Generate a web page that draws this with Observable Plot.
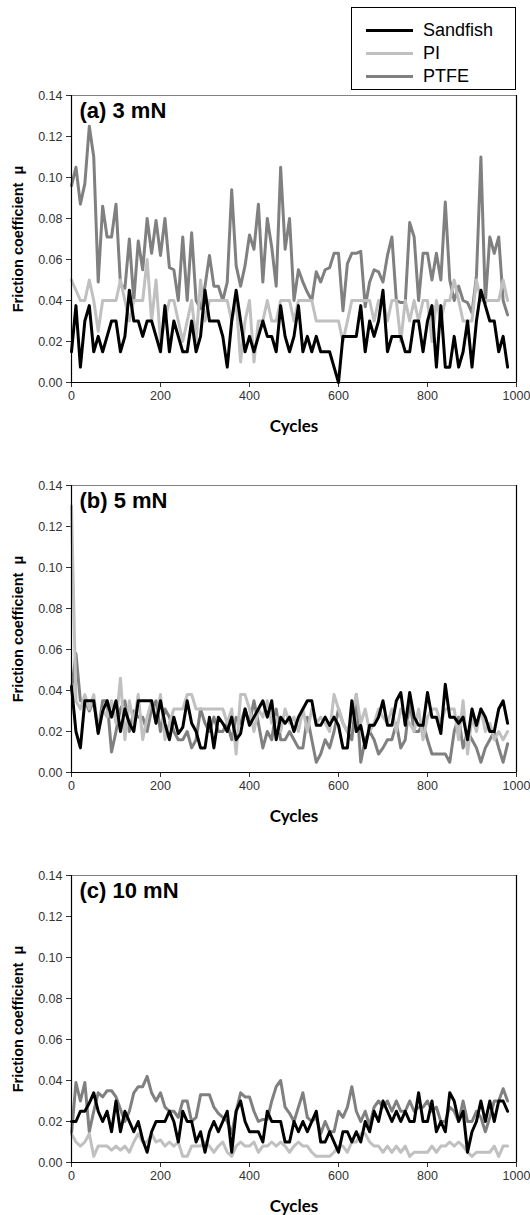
<!DOCTYPE html>
<html>
<head>
<meta charset="utf-8">
<script src="https://cdn.jsdelivr.net/npm/d3@7"></script>
<script src="https://cdn.jsdelivr.net/npm/@observablehq/plot@0.6"></script>
<style>
html,body{margin:0;padding:0;background:#fff;}
#wrap{position:relative;width:530px;height:1215px;overflow:hidden;font-family:"Liberation Sans",Arial,sans-serif;}
.legend{position:absolute;left:351px;top:7px;width:163px;height:81px;border:1px solid #000;background:#fff;z-index:2;}
.legend .row{position:absolute;left:0;height:20px;width:160px;}
.legend .ln{position:absolute;left:14px;width:47px;height:3px;top:9px;}
.legend .tx{position:absolute;left:71px;top:0;font-size:18px;line-height:20px;color:#000;}
</style>
</head>
<body>
<div id="wrap">
  <div class="legend" id="legend"></div>
</div>
<script>
// ---- data ----
const cycles = [0,10,20,30,40,50,60,70,80,90,100,110,120,130,140,150,160,170,180,190,200,210,220,230,240,250,260,270,280,290,300,310,320,330,340,350,360,370,380,390,400,410,420,430,440,450,460,470,480,490,500,510,520,530,540,550,560,570,580,590,600,610,620,630,640,650,660,670,680,690,700,710,720,730,740,750,760,770,780,790,800,810,820,830,840,850,860,870,880,890,900,910,920,930,940,950,960,970,980];

const seriesNames = ["Sandfish", "PI", "PTFE"];
const seriesColors = ["#000000", "#c0c0c0", "#808080"];
const panelTitles = ["(a) 3 mN", "(b) 5 mN", "(c) 10 mN"];
const xTicks = [0, 200, 400, 600, 800, 1000];
const yTicks = [0, 0.02, 0.04, 0.06, 0.08, 0.10, 0.12, 0.14];
const xLabel = "Cycles";
const yLabel = "Friction coefficient  μ";

// (a) 3 mN
const sandfish3 = [.015,.0375,.0075,.03,.0375,.015,.0225,.015,.0225,.03,
.03,.015,.0225,.045,.03,.03,.0225,.03,.03,.0225,
.015,.0375,.015,.03,.0225,.015,.015,.03,.015,.0225,
.045,.03,.03,.03,.0225,.0075,.03,.045,.03,.015,
.0225,.015,.0225,.03,.0225,.0225,.015,.0375,.0225,.015,
.0225,.0375,.015,.0225,.015,.0225,.015,.015,.015,.0075,
0,.0225,.0225,.0225,.0225,.0375,.015,.03,.0225,.03,
.045,.015,.0225,.0225,.0225,.015,.015,.03,.03,.015,
.03,.0375,.0075,.0375,.0075,.0075,.0225,.0075,.015,.03,
.0075,.03,.045,.0375,.03,.03,.015,.0225,.0075];
const pi3 = [.05,.045,.04,.04,.05,.04,.025,.04,.04,.04,
.04,.05,.04,.03,.04,.04,.04,.06,.03,.05,
.02,.03,.04,.04,.03,.02,.03,.04,.02,.05,
.03,.04,.04,.04,.04,.04,.03,.04,.01,.03,
.04,.01,.03,.03,.04,.03,.03,.04,.04,.04,
.03,.04,.04,.04,.04,.03,.03,.03,.03,.03,
.03,.02,.03,.04,.04,.04,.04,.04,.03,.04,
.04,.03,.04,.04,.02,.04,.03,.04,.03,.04,
.04,.02,.04,.03,.04,.04,.05,.04,.03,.03,
.03,.05,.04,.04,.04,.04,.04,.05,.04];
const ptfe3 = [.096,.105,.087,.097,.125,.11,.049,.086,.071,.071,
.087,.048,.046,.07,.04,.069,.055,.08,.063,.079,
.062,.08,.056,.055,.04,.071,.04,.073,.04,.036,
.047,.062,.047,.047,.04,.049,.094,.057,.047,.057,
.072,.065,.087,.049,.08,.066,.047,.105,.065,.08,
.04,.055,.049,.044,.04,.054,.049,.055,.056,.063,
.063,.035,.058,.063,.063,.064,.037,.049,.055,.054,
.049,.062,.071,.04,.039,.039,.078,.071,.04,.063,
.063,.05,.063,.05,.088,.05,.04,.047,.04,.039,
.034,.052,.11,.039,.071,.063,.071,.04,.033];

// (b) 5 mN
const sandfish5 = [.042,.02,.012,.035,.035,.035,.019,.03,.035,.027,
.035,.02,.031,.024,.02,.035,.035,.035,.035,.024,
.035,.024,.016,.027,.019,.022,.035,.024,.02,.012,
.012,.027,.012,.027,.024,.02,.027,.016,.019,.031,
.023,.027,.031,.035,.027,.035,.016,.027,.024,.027,
.02,.027,.031,.035,.035,.023,.023,.027,.023,.027,
.023,.012,.012,.035,.02,.023,.012,.023,.023,.027,
.035,.023,.023,.035,.039,.023,.039,.027,.023,.023,
.039,.027,.027,.019,.043,.027,.027,.024,.027,.016,
.031,.023,.031,.027,.02,.02,.031,.035,.024];
const pi5 = [.13,.035,.031,.038,.031,.038,.02,.031,.027,.035,
.024,.046,.016,.035,.024,.038,.016,.027,.035,.024,
.038,.016,.024,.031,.031,.031,.038,.038,.031,.031,
.031,.031,.031,.031,.031,.024,.031,.009,.038,.038,
.031,.02,.031,.027,.035,.024,.027,.02,.031,.024,
.027,.02,.031,.02,.031,.024,.027,.024,.02,.038,
.031,.024,.02,.027,.038,.024,.031,.02,.024,.031,
.027,.024,.031,.02,.031,.027,.024,.02,.031,.016,
.027,.031,.031,.024,.031,.031,.031,.016,.035,.009,
.027,.02,.031,.02,.024,.016,.02,.016,.02];
const ptfe5 = [.04,.058,.035,.035,.03,.035,.02,.035,.035,.01,
.02,.031,.035,.02,.03,.027,.027,.02,.031,.035,
.02,.031,.027,.02,.016,.016,.02,.012,.016,.031,
.024,.02,.027,.02,.02,.024,.016,.027,.024,.031,
.024,.035,.024,.012,.02,.016,.031,.016,.016,.02,
.016,.012,.012,.027,.016,.005,.009,.016,.012,.02,
.031,.024,.02,.016,.038,.005,.016,.02,.016,.009,
.012,.016,.016,.024,.012,.016,.035,.02,.02,.024,
.016,.009,.009,.009,.009,.005,.02,.027,.012,.02,
.016,.012,.005,.012,.016,.02,.012,.005,.014];

// (c) 10 mN
const sandfish10 = [.02,.02,.025,.025,.029,.034,.025,.02,.025,.015,
.03,.015,.025,.02,.015,.02,.011,.005,.015,.02,
.02,.02,.025,.02,.01,.025,.02,.02,.01,.015,
.005,.015,.02,.015,.02,.025,.005,.025,.03,.02,
.015,.015,.015,.01,.025,.02,.02,.02,.01,.01,
.02,.015,.02,.015,.02,.025,.01,.01,.015,.01,
.005,.015,.015,.01,.015,.01,.02,.015,.025,.02,
.03,.025,.02,.025,.02,.025,.02,.02,.034,.02,
.02,.03,.015,.02,.015,.034,.03,.02,.025,.005,
.015,.02,.03,.02,.03,.02,.03,.03,.025];
const pi10 = [.014,.01,.008,.01,.014,.003,.008,.008,.008,.006,
.008,.006,.008,.005,.01,.014,.01,.01,.014,.01,
.011,.008,.01,.008,.01,.003,.003,.008,.008,.008,
.01,.008,.005,.008,.01,.005,.003,.008,.01,.008,
.008,.01,.005,.008,.008,.01,.008,.01,.008,.005,
.008,.01,.008,.008,.005,.003,.003,.003,.003,.005,
.008,.008,.005,.01,.01,.014,.014,.01,.008,.008,
.005,.008,.005,.008,.005,.008,.003,.005,.005,.005,
.005,.008,.005,.008,.008,.01,.008,.01,.008,.005,
.003,.005,.005,.005,.005,.008,.003,.008,.008];
const ptfe10 = [.014,.039,.03,.039,.015,.025,.034,.032,.035,.035,
.032,.026,.02,.025,.034,.037,.037,.042,.034,.03,
.034,.027,.025,.025,.022,.03,.03,.02,.022,.033,
.033,.033,.027,.024,.022,.02,.014,.025,.034,.032,
.032,.025,.02,.021,.021,.03,.037,.04,.027,.024,
.02,.027,.034,.022,.02,.022,.014,.02,.015,.015,
.025,.022,.027,.037,.025,.02,.025,.018,.027,.03,
.027,.03,.025,.03,.025,.025,.03,.025,.027,.027,
.03,.025,.027,.02,.02,.027,.025,.02,.03,.02,
.02,.025,.022,.015,.022,.03,.03,.036,.03];

// ---- rendering ----
const FONT = '"Liberation Sans", Arial, sans-serif';
const toRows = (arr) => cycles.map((c, i) => ({cycle: c, mu: arr[i]}));

function panel(title, s, p, t, mt, mb) {
  const lineOpts = (color) => ({x: "cycle", y: "mu", stroke: color, strokeWidth: 3, strokeLinejoin: "round", strokeLinecap: "round"});
  return Plot.plot({
    width: 530,
    height: mt + 287 + mb,
    marginTop: mt,
    marginBottom: mb,
    marginLeft: 71,
    marginRight: 14,
    style: {fontFamily: FONT, fontSize: "12.5px", color: "#333", background: "transparent"},
    x: {domain: [0, 1000], ticks: xTicks, tickSize: 5, tickFormat: d => String(d), label: null},
    y: {domain: [0, 0.14], ticks: yTicks, tickSize: 5, tickFormat: d3.format(".2f"), label: null},
    marks: [
      Plot.ruleY([0.14], {stroke: "#808080", strokeWidth: 1.2}),
      Plot.ruleX([1000], {stroke: "#000", strokeWidth: 1.2}),
      Plot.line(toRows(t), lineOpts(seriesColors[2])),
      Plot.line(toRows(p), lineOpts(seriesColors[1])),
      Plot.line(toRows(s), lineOpts(seriesColors[0])),
      Plot.ruleX([0], {stroke: "#000", strokeWidth: 1.2}),
      Plot.ruleY([0], {stroke: "#000", strokeWidth: 1.2}),
      Plot.text([title], {frameAnchor: "top-left", dx: 8, dy: 7, lineAnchor: "top", textAnchor: "start",
        fontSize: 22, fontWeight: "bold", fill: "#000", fontFamily: FONT}),
      Plot.text([yLabel], {frameAnchor: "left", dx: -53.5, rotate: -90, textAnchor: "middle", lineAnchor: "middle",
        fontSize: 14.5, fontWeight: "bold", fill: "#000", fontFamily: FONT}),
      Plot.text([xLabel], {frameAnchor: "bottom", dy: 44, textAnchor: "middle", lineAnchor: "middle",
        fontSize: 17, fontWeight: "bold", fill: "#000", fontFamily: "Lato, 'Open Sans', sans-serif"})
    ]
  });
}

const wrap = document.getElementById("wrap");
const specs = [
  {title: panelTitles[0], s: sandfish3, p: pi3, t: ptfe3, mt: 95, mb: 58, top: 0},
  {title: panelTitles[1], s: sandfish5, p: pi5, t: ptfe5, mt: 45, mb: 58, top: 440},
  {title: panelTitles[2], s: sandfish10, p: pi10, t: ptfe10, mt: 45, mb: 53, top: 830}
];
for (const sp of specs) {
  const svg = panel(sp.title, sp.s, sp.p, sp.t, sp.mt, sp.mb);
  svg.style.position = "absolute";
  svg.style.left = "0px";
  svg.style.top = sp.top + "px";
  wrap.appendChild(svg);
}

// legend
const legend = document.getElementById("legend");
seriesNames.forEach((name, i) => {
  const row = document.createElement("div");
  row.className = "row";
  row.style.top = (12 + i * 23) + "px";
  const ln = document.createElement("div");
  ln.className = "ln";
  ln.style.background = seriesColors[i];
  const tx = document.createElement("div");
  tx.className = "tx";
  tx.textContent = name;
  row.appendChild(ln);
  row.appendChild(tx);
  legend.appendChild(row);
});
</script>
</body>
</html>
